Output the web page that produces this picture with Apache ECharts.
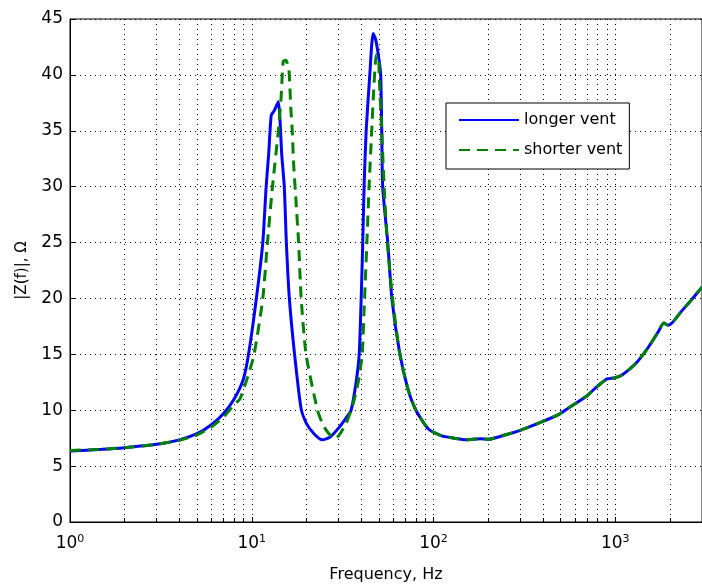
<!DOCTYPE html>
<html>
<head>
<meta charset="utf-8">
<script src="https://cdn.jsdelivr.net/npm/echarts@6/dist/echarts.min.js"></script>
<style>
  html, body { margin: 0; padding: 0; background: #fff; }
  #chart { width: 702px; height: 588px; }
</style>
</head>
<body>
<div id="chart"></div>
<script>
// longer vent (solid blue)
const longerFreq = [1, 1.5, 2, 3, 4, 5, 6, 7, 8, 9, 9.6, 10.6, 11.5, 12.0, 12.4, 12.8, 13.3, 14.0, 14.3, 14.6, 15.1, 15.5, 16.1, 17.2, 18.7, 20, 22, 24.4, 27, 30, 33, 35.2, 37.5, 39, 40, 40.8, 41.5, 42.6, 44.6, 46.5, 48, 50, 51.2, 51.9, 52.5, 56, 59, 65, 72, 80, 94, 111, 130, 150, 180, 200, 250, 300, 400, 487, 553, 700, 779, 900, 1000, 1100, 1300, 1500, 1722, 1850, 1950, 2050, 2300, 2600, 2858, 3000];
const longerZ    = [6.35, 6.5, 6.65, 6.95, 7.35, 7.9, 8.7, 9.7, 11.0, 12.8, 15, 20, 25, 30, 33, 36.4, 36.8, 37.6, 36, 33, 30, 25, 20, 15, 10.1, 8.8, 7.9, 7.35, 7.6, 8.4, 9.3, 10, 12.5, 15, 20, 25, 30, 35, 40, 43.7, 43.2, 41.5, 40, 35, 30, 25, 20, 15.2, 12, 10, 8.3, 7.7, 7.5, 7.35, 7.45, 7.4, 7.8, 8.2, 9.0, 9.6, 10.2, 11.3, 12, 12.8, 12.9, 13.2, 14.2, 15.5, 17, 17.8, 17.6, 17.8, 18.8, 19.8, 20.6, 21];

// shorter vent (dashed green)
const shorterFreq = [1, 1.5, 2, 3, 4, 5, 6, 7, 8, 8.6, 9.5, 10.3, 11.5, 12.2, 13, 14.0, 14.5, 14.9, 15.4, 16.0, 16.4, 16.7, 17.0, 17.5, 18.1, 18.7, 19.9, 23, 25, 28.5, 30, 33, 36, 38.5, 40.5, 41.5, 43, 44.2, 45.7, 47, 48.5, 50, 50.2, 51.9, 53.5, 55.7, 59.5, 65, 72, 80, 94, 111, 130, 150, 180, 200, 250, 300, 400, 487, 553, 700, 779, 900, 1000, 1100, 1300, 1500, 1722, 1850, 1950, 2050, 2300, 2600, 2858, 3000];
const shorterZ    = [6.4, 6.5, 6.65, 6.95, 7.3, 7.8, 8.5, 9.4, 10.5, 11, 13, 15, 20, 25, 30, 35, 38, 41.2, 41.3, 40.5, 37, 35, 32, 28.8, 25, 20, 15, 10, 8.5, 7.45, 7.7, 8.8, 10.5, 12.5, 15, 19, 25, 30, 35, 39, 41.8, 41.5, 40, 35, 30, 25, 20, 15.2, 12, 10, 8.3, 7.7, 7.5, 7.35, 7.45, 7.4, 7.8, 8.2, 9.0, 9.6, 10.2, 11.3, 12, 12.8, 12.9, 13.2, 14.2, 15.5, 17, 17.8, 17.6, 17.8, 18.8, 19.8, 20.6, 21];

const seriesNames = ['longer vent', 'shorter vent'];
const yTicks = [0, 5, 10, 15, 20, 25, 30, 35, 40, 45];

const font = 'DejaVu Sans';
const dotted = { color: '#000', width: 1, type: [1, 4] };

const chart = echarts.init(document.getElementById('chart'));

chart.setOption({
  animation: false,
  backgroundColor: '#fff',
  textStyle: { fontFamily: font },
  grid: {
    left: 70, top: 19, width: 634, height: 504,
    show: true, borderColor: '#000', borderWidth: 1
  },
  legend: {
    orient: 'vertical',
    left: 446, top: 103,
    padding: [9, 7, 11, 12],
    itemWidth: 60, itemHeight: 14, itemGap: 14,
    borderColor: '#000', borderWidth: 1,
    backgroundColor: '#fff',
    itemStyle: { opacity: 0 },
    textStyle: { fontFamily: font, fontSize: 16, color: '#000' },
    data: seriesNames
  },
  xAxis: {
    type: 'log',
    logBase: 10,
    min: 1,
    max: 3000,
    name: 'Frequency, Hz',
    nameLocation: 'middle',
    nameGap: 45,
    nameTextStyle: { fontFamily: font, fontSize: 16, color: '#000' },
    axisLine: { lineStyle: { color: '#000', width: 1 } },
    axisTick: { inside: true, length: 5, lineStyle: { color: '#000' } },
    minorTick: { show: true, splitNumber: 9, length: 4, lineStyle: { color: '#000' } },
    splitLine: { show: true, lineStyle: dotted },
    minorSplitLine: { show: true, lineStyle: dotted },
    axisLabel: {
      margin: 12,
      showMaxLabel: false,
      formatter: v => {
        const e = Math.log10(v);
        if (Math.abs(e - Math.round(e)) > 1e-6) return '';
        return '{b|10}{s|' + Math.round(e) + '}';
      },
      rich: {
        b: { fontFamily: font, fontSize: 17, color: '#000' },
        s: { fontFamily: font, fontSize: 11, color: '#000', verticalAlign: 'top', padding: [0, 0, 8, 0] }
      }
    }
  },
  yAxis: {
    type: 'value',
    min: yTicks[0],
    max: yTicks[yTicks.length - 1],
    interval: 5,
    name: '|Z(f)|, Ω',
    nameLocation: 'middle',
    nameGap: 40,
    nameTextStyle: { fontFamily: font, fontSize: 15, color: '#000' },
    axisLine: { show: true, lineStyle: { color: '#000', width: 1 } },
    axisTick: { show: true, inside: true, length: 5, lineStyle: { color: '#000' } },
    splitLine: { show: true, lineStyle: dotted },
    axisLabel: { margin: 7, fontFamily: font, fontSize: 17, color: '#000' }
  },
  series: [
    {
      name: seriesNames[0],
      type: 'line',
      symbol: 'none',
      smooth: 0.2,
      data: longerFreq.map((f, i) => [f, longerZ[i]]),
      lineStyle: { color: '#0000ff', width: 3 },
      itemStyle: { color: '#0000ff' },
      z: 3
    },
    {
      name: seriesNames[1],
      type: 'line',
      symbol: 'none',
      smooth: 0.2,
      data: shorterFreq.map((f, i) => [f, shorterZ[i]]),
      lineStyle: { color: '#008000', width: 3, type: [11, 7] },
      itemStyle: { color: '#008000' },
      z: 4
    }
  ]
});
</script>
</body>
</html>
